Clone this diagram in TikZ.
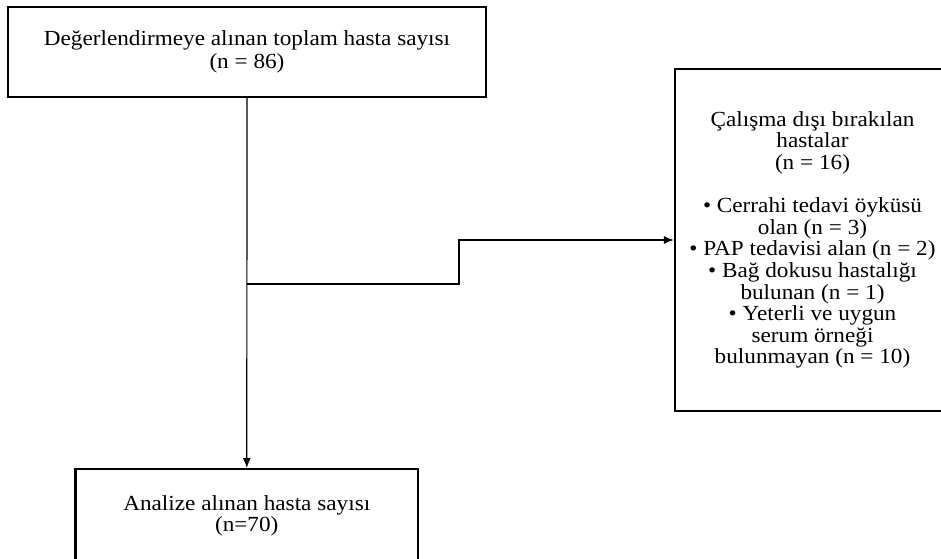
\documentclass[tikz,border=0pt]{standalone}
\usepackage{fontspec}
\setmainfont{Liberation Serif}[FakeStretch=1.08]
\usetikzlibrary{arrows.meta,positioning,calc}

\begin{document}
\begin{tikzpicture}[
    x=1pt, y=-1pt,
    box/.style={draw, line width=2.4pt, align=center, inner sep=0pt, font=\fontsize{21.5}{21.6}\selectfont},
    arr/.style={-{Latex[length=10pt, width=8pt]}, line width=1.2pt},
]
    \useasboundingbox (0,0) rectangle (941,558);
    \clip (0,0) rectangle (941,558);

    \node[box, minimum width=478pt, minimum height=90pt] (total) at (247,52)
        {Değerlendirmeye alınan toplam hasta sayısı\\[1.5pt](n = 86)};
    \node[box, minimum width=275pt, minimum height=342pt] (excluded) at (812.5,240)
        {Çalışma dışı bırakılan\\hastalar\\(n = 16)\\[21.6pt]
         • Cerrahi tedavi öyküsü\\olan (n = 3)\\• PAP tedavisi alan (n = 2)\\
         • Bağ dokusu hastalığı\\bulunan (n = 1)\\• Yeterli ve uygun\\
         serum örneği\\bulunmayan (n = 10)};
    \node[box, anchor=north, minimum width=342.5pt, inner ysep=26pt, text depth=70pt] (analysed) at (246.75,468)
        {Analize alınan hasta sayısı\\(n=70)};

    \coordinate (split) at (247,284);
    \coordinate (step1) at (459,284);

    \draw[arr] (total) -- (analysed);
    \draw[arr] (split) -- (step1) |- (excluded.west);
\end{tikzpicture}
\end{document}
